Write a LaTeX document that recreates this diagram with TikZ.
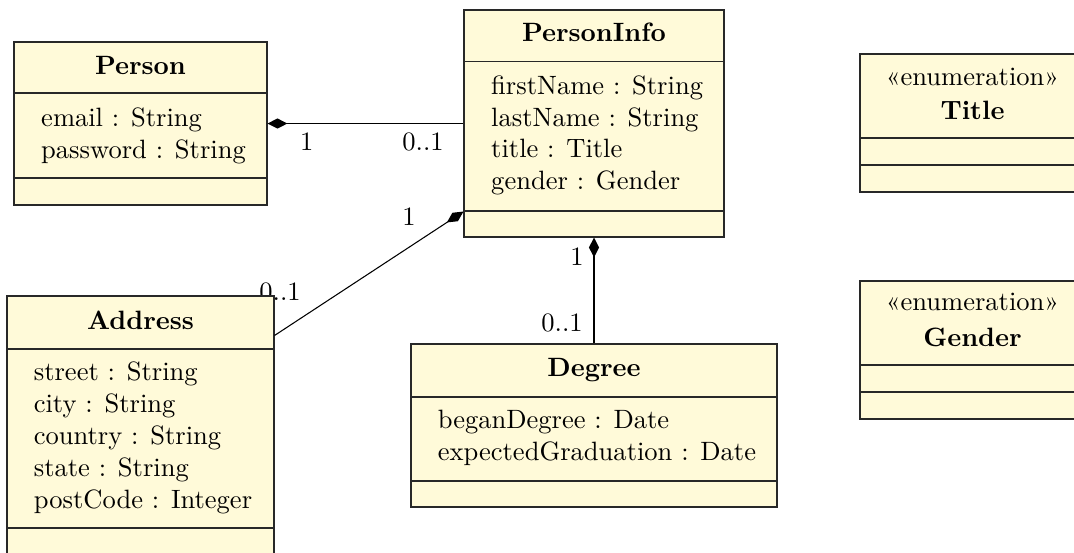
\documentclass[tikz,border=0pt]{standalone}
\usetikzlibrary{arrows.meta,fit,calc}
\definecolor{classfill}{RGB}{255,250,217}
\definecolor{classline}{RGB}{40,40,40}
\tikzset{
  umlbox/.style={draw=classline, fill=classfill, line width=0.4pt, inner sep=0pt},
  sepline/.style={draw=classline, line width=0.4pt},
  ctitle/.style={anchor=base, font=\bfseries, inner sep=0pt},
  stereo/.style={anchor=base, inner sep=0pt},
  attr/.style={anchor=base west, inner sep=0pt},
  mult/.style={anchor=base, inner sep=0pt},
  comp/.style={draw=black, line width=0.4pt, {Diamond[length=7.5pt,width=3.8pt]}-},
}
\begin{document}
\begin{tikzpicture}[x=0.377pt,y=-0.377pt]
\useasboundingbox (0,0) rectangle (1074,552);
\clip (0,0) rectangle (1074,552);

% multiplicities (drawn first, boxes may cover them)
\node[mult] (m1) at (306.7,150.7) {1};
\node[mult] (m2) at (423,150.7) {0..1};
\node[mult] (m3) at (409,225) {1};
\node[mult] (m4) at (280,300) {0..1};
\node[mult] (m5) at (577,265.7) {1};
\node[mult] (m6) at (562,331.7) {0..1};

% Person
\node[umlbox, fit={(14,42) (267,205)}] (person) {};
\draw[sepline] (14,93) -- (267,93);
\draw[sepline] (14,178) -- (267,178);
\node[ctitle] (personname) at (140.5,74.3) {Person};
\node[attr] (pa1) at (40.7,126.7) {email : String};
\node[attr] (pa2) at (40.7,158.4) {password : String};

% PersonInfo
\node[umlbox, fit={(464,10) (724,237)}] (pinfo) {};
\draw[sepline] (464,61.7) -- (724,61.7);
\draw[sepline] (464,211) -- (724,211);
\node[ctitle] (pinfoname) at (594,41.7) {PersonInfo};
\node[attr] (pi1) at (490.7,94.3) {firstName : String};
\node[attr] (pi2) at (490.7,126) {lastName : String};
\node[attr] (pi3) at (490.7,157.5) {title : Title};
\node[attr] (pi4) at (490.7,189) {gender : Gender};

% Address
\node[umlbox, fit={(7,296) (274,556)}] (addr) {};
\draw[sepline] (7,349) -- (274,349);
\draw[sepline] (7,528) -- (274,528);
\node[ctitle] (addrname) at (140.5,329.3) {Address};
\node[attr] (ad1) at (33.3,380.7) {street : String};
\node[attr] (ad2) at (33.3,412.5) {city : String};
\node[attr] (ad3) at (33.3,444.5) {country : String};
\node[attr] (ad4) at (33.3,476.3) {state : String};
\node[attr] (ad5) at (33.3,508) {postCode : Integer};

% Degree
\node[umlbox, fit={(411,344) (777,507)}] (degree) {};
\draw[sepline] (411,397) -- (777,397);
\draw[sepline] (411,481) -- (777,481);
\node[ctitle] (degreename) at (594,376.7) {Degree};
\node[attr] (dg1) at (37.3+400,428.3) {beganDegree : Date};
\node[attr] (dg2) at (37.3+400,460) {expectedGraduation : Date};

% Title enumeration
\node[umlbox, fit={(860,54) (1085,192)}] (title) {};
\draw[sepline] (860,138) -- (1085,138);
\draw[sepline] (860,165) -- (1085,165);
\node[stereo] (titlest) at (972.5,85.7) {«enumeration»};
\node[ctitle] (titlename) at (972.5,119) {Title};

% Gender enumeration
\node[umlbox, fit={(860,281) (1085,419)}] (gender) {};
\draw[sepline] (860,365) -- (1085,365);
\draw[sepline] (860,392) -- (1085,392);
\node[stereo] (genderst) at (972.5,310) {«enumeration»};
\node[ctitle] (gendername) at (972.5,346) {Gender};

% compositions
\draw[comp] (person.east) -- (pinfo.west);
\draw[comp] ($(pinfo.south west)+(0,-26)$) -- ($(addr.north east)+(0,40)$);
\draw[comp] (pinfo.south) -- (degree.north);
\end{tikzpicture}
\end{document}
